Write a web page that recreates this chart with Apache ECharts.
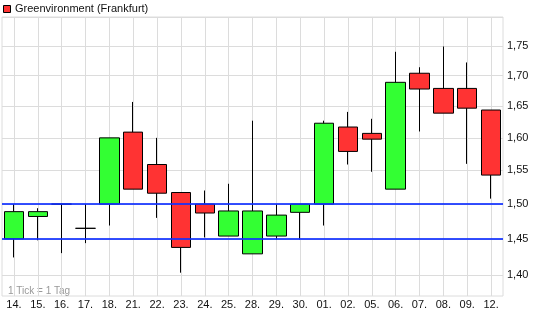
<!DOCTYPE html>
<html>
<head>
<meta charset="utf-8">
<script src="https://cdn.jsdelivr.net/npm/echarts@6/dist/echarts.min.js"></script>
<style>html,body{margin:0;padding:0;background:#fff}#c{width:535px;height:316px}</style>
</head>
<body>
<div id="c"></div>
<script>
var categories = ['14.','15.','16.','17.','18.','21.','22.','23.','24.','25.','28.','29.','30.','01.','02.','05.','06.','07.','08.','09.','12.'];
var openValues  = [1.450,1.482,1.500,1.465,1.500,1.609,1.559,1.517,1.500,1.454,1.429,1.454,1.488,1.500,1.617,1.607,1.522,1.704,1.679,1.679,1.644];
var closeValues = [1.489,1.489,1.500,1.465,1.600,1.522,1.516,1.438,1.487,1.490,1.490,1.484,1.500,1.623,1.579,1.598,1.689,1.678,1.639,1.647,1.543];
var lowValues   = [1.424,1.448,1.430,1.444,1.469,1.522,1.480,1.403,1.452,1.454,1.429,1.449,1.449,1.469,1.559,1.548,1.522,1.610,1.639,1.560,1.508];
var highValues  = [1.500,1.494,1.500,1.500,1.600,1.657,1.600,1.517,1.520,1.530,1.627,1.500,1.500,1.627,1.641,1.630,1.740,1.714,1.749,1.722,1.644];
var yTicks = [1.40,1.45,1.50,1.55,1.60,1.65,1.70,1.75,1.80];
var supportLevels = [1.501, 1.447];
var seriesName = 'Greenvironment (Frankfurt)';

var candleData = categories.map(function(c, i){
  return [openValues[i], closeValues[i], lowValues[i], highValues[i]];
});

var chart = echarts.init(document.getElementById('c'), null, {renderer:'canvas'});
var gridColor = '#dcdcdc';
chart.setOption({
  animation: false,
  backgroundColor: '#fff',
  textStyle: {fontFamily: 'Liberation Sans, Arial, sans-serif'},
  grid: {left: 2, right: 32, top: 17, bottom: 20, show: true, borderColor: gridColor, borderWidth: 1},
  graphic: [
    {type:'rect', left: 3, top: 5, shape:{width:7, height:7}, style:{fill:'#ff3333', stroke:'#000', lineWidth:1}},
    {type:'text', left: 15, top: 3, style:{text: seriesName, fill:'#111', font:'11px Liberation Sans, Arial, sans-serif'}},
    {type:'text', left: 8, top: 286, style:{text:'1 Tick = 1 Tag', fill:'#999', font:'10px Liberation Sans, Arial, sans-serif'}}
  ],
  xAxis: {
    type: 'category',
    data: categories,
    boundaryGap: true,
    axisLine: {show:false},
    axisTick: {show:false, alignWithLabel:true},
    splitLine: {show:true, alignWithLabel:true, lineStyle:{color:gridColor, width:1}},
    axisLabel: {color:'#111', fontSize:11, margin:3, interval:0}
  },
  yAxis: {
    type: 'log',
    position: 'right',
    min: 1.3715,
    max: 1.80,
    axisLine: {show:false},
    axisTick: {show:false, customValues: yTicks},
    splitLine: {show:false},
    axisLabel: {
      customValues: yTicks.slice(0, 8),
      color:'#111', fontSize:11, margin:4,
      formatter: function(v){ return v.toFixed(2).replace('.', ','); }
    }
  },
  series: [{
    name: 'grid',
    type: 'line',
    data: [],
    z: 0,
    silent: true,
    markLine: {
      z: 0,
      silent: true,
      symbol: ['none','none'],
      label: {show:false},
      lineStyle: {color:gridColor, width:1, type:'solid'},
      data: yTicks.map(function(v){ return {yAxis: v}; })
    }
  }, {
    name: seriesName,
    type: 'candlestick',
    data: candleData,
    barWidth: 20,
    z: 3,
    itemStyle: {color:'#33ff33', color0:'#ff3333', borderColor:'#000', borderColor0:'#000', borderColorDoji:'#000', borderWidth:1},
    markLine: {
      z: 5,
      silent: true,
      symbol: ['none','none'],
      label: {show:false},
      lineStyle: {color:'#1030ff', width:2, type:'solid', opacity:0.85},
      data: supportLevels.map(function(v){ return {yAxis: v}; })
    }
  }]
});
</script>
</body>
</html>
